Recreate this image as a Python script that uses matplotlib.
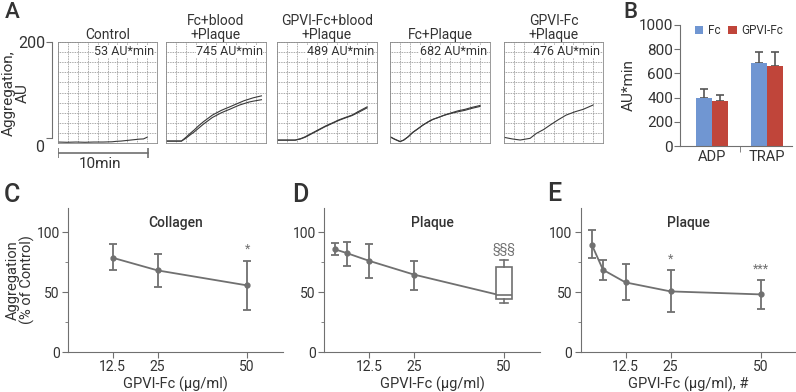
import numpy as np
import matplotlib
matplotlib.use("Agg")
import matplotlib.pyplot as plt
import matplotlib.transforms as mtrans

plt.rcParams['font.family'] = ['Roboto', 'DejaVu Sans']

W, H = 796, 392
TXT = '#333333'
GR = '#707070'

# ---------------- Panel A data ----------------
a_titles = ['Control', 'Fc+blood\n+Plaque', 'GPVI-Fc+blood\n+Plaque', 'Fc+Plaque', 'GPVI-Fc\n+Plaque']
a_auc = ['53 AU*min', '745 AU*min', '489 AU*min', '682 AU*min', '476 AU*min']

t_ctrl = [0, 1, 2, 3, 4, 5, 6, 6.5, 7, 7.5, 8, 8.5, 9, 9.5, 9.9]
y_ctrl = [-8, -8.5, -8, -8.5, -8, -8, -7.5, -6.5, -6, -5, -4, -3, -2, -1.5, 2]

t_fcb = [0, 1.7, 2.2, 2.6, 3.1, 3.6, 4.1, 4.6, 5.1, 5.6, 6.1, 6.6, 7.0, 7.6, 8.1, 8.6, 9.1, 9.6, 10.5]
y_fcb1 = [-6, -6, 2, 9, 17, 26, 34, 41, 48, 53, 58, 62, 65, 70, 74, 78, 81, 84, 88]
y_fcb2 = [-6, -6, 0, 6, 13, 21, 29, 36, 43, 48, 53, 57, 60, 65, 69, 72, 75, 77, 80]

t_gpb = [0, 1, 2, 2.6, 3.1, 3.6, 4.2, 4.7, 5.3, 6.0, 6.8, 7.5, 8.25, 9.0, 9.9]
y_gpb1 = [-4, -4, -4, -1, 3, 8, 14, 19, 25, 31, 38, 43, 48, 56, 65]
y_gpb2 = [-4, -4, -4, -1.5, 2, 7, 13, 18, 24, 30, 37, 42, 47, 54, 63]

t_fcp = [0, 0.5, 1.1, 1.5, 2.0, 2.5, 3.1, 3.6, 4.2, 4.7, 5.3, 6.0, 6.8, 7.5, 8.25, 9.0, 9.9]
y_fcp1 = [3, -2, -7, -4, 3, 12, 20, 27, 34, 39, 43, 48, 53, 57, 60, 64, 68]
y_fcp2 = [3, -2, -7, -4, 3, 12, 20, 27, 34, 39, 43, 48, 52, 55, 58, 62, 66]

t_gpp = [0, 0.9, 1.8, 2.9, 3.6, 4.4, 5.1, 6.0, 6.9, 7.9, 8.8, 9.9]
y_gpp = [1.8, -1.5, -3.8, -0.3, 10, 18, 27, 38, 48, 55, 60, 69]

a_traces = [
    [(t_ctrl, y_ctrl)],
    [(t_fcb, y_fcb1), (t_fcb, y_fcb2)],
    [(t_gpb, y_gpb1), (t_gpb, y_gpb2)],
    [(t_fcp, y_fcp1), (t_fcp, y_fcp2)],
    [(t_gpp, y_gpp)],
]

# ---------------- Panel B data ----------------
b_cats = ['ADP', 'TRAP']
b_fc = [400, 685]
b_fc_err = [70, 95]
b_gp = [370, 660]
b_gp_err = [50, 115]

# ---------------- Panels C-E data ----------------
c_dose = [12.5, 25, 50]
c_mean = [78.5, 68, 55.5]
c_lo = [68, 54, 35]
c_hi = [90, 82, 76]

d_dose = [3.125, 6.25, 12.5, 25, 50]
d_mean = [85.5, 82.5, 76, 64.5, 46.5]
d_lo = [81, 72, 62, 52]
d_hi = [91, 92, 90, 76]
d_box = dict(med=47.5, q1=44.5, q3=71, whislo=41, whishi=76.5)

e_dose = [3.125, 6.25, 12.5, 25, 50]
e_mean = [89.5, 68.5, 58, 50.5, 48]
e_lo = [78, 60, 43, 33, 36]
e_hi = [102, 77, 73.5, 68, 60]

xticks_cde = [12.5, 25, 50]

fig = plt.figure(figsize=(W / 100, H / 100), dpi=100)


def add_ax(x0, y0, x1, y1):
    return fig.add_axes([x0 / W, 1 - y1 / H, (x1 - x0) / W, (y1 - y0) / H])


# ---------------- Panel A ----------------
a_x = [(58, 157), (166, 266), (277, 377), (390, 490), (504, 603)]
dot = (0, (1, 1))
for i, (x0, x1) in enumerate(a_x):
    ax = add_ax(x0, 42, x1, 143)
    ax.set_xlim(0, 11)
    ax.set_ylim(-10, 200)
    ax.set_xticks(np.linspace(0, 11, 11))
    ax.set_yticks(np.linspace(-10, 200, 11))
    ax.tick_params(length=0, labelbottom=False, labelleft=False)
    ax.grid(True, color='#8a8a8a', lw=0.6, linestyle=dot)
    for s in ax.spines.values():
        s.set_linestyle(dot)
        s.set_color('#8a8a8a')
        s.set_linewidth(0.6)
    for (tt, yy) in a_traces[i]:
        ax.plot(tt, yy, color='#3a3a3a', lw=0.8)
    ax.set_title(a_titles[i], fontsize=10, color=TXT, pad=2, linespacing=1.0)
    ax.text(0.97, 0.905, a_auc[i], transform=ax.transAxes, ha='right', va='center',
            fontsize=9, color=TXT,
            bbox=dict(facecolor='white', edgecolor='none', pad=0.3))

# A y-axis
ay = add_ax(52, 42, 53, 138)
ay.set_ylim(0, 200)
ay.set_yticks([0, 200])
ay.set_xticks([])
for s in ['top', 'right', 'bottom']:
    ay.spines[s].set_visible(False)
ay.spines['left'].set_color(GR)
ay.tick_params(axis='y', labelsize=11.5, colors=GR, labelcolor=TXT, length=4, pad=1)
ay.patch.set_visible(False)
lab0 = ay.get_yticklabels()[0]
lab0.set_transform(lab0.get_transform() + mtrans.ScaledTranslation(-1 / 72, -6 / 72, fig.dpi_scale_trans))
fig.text(16 / W, 1 - 93 / H, 'Aggregation,\nAU', rotation=90, ha='center', va='center',
         fontsize=11, color=TXT, linespacing=1.0)

# 10 min scale bar
asb = add_ax(58, 145, 157, 160)
asb.set_xlim(0, 11)
asb.set_ylim(0, 1)
asb.axis('off')
asb.plot([0, 10], [0.5, 0.5], color=GR, lw=1.2, marker='|', ms=7, mew=1.2)
fig.text(100 / W, 1 - 164 / H, '10min', ha='center', va='center', fontsize=11, color=TXT)

fig.text(5 / W, 1 - 12 / H, 'A', fontsize=16, fontweight='medium', color=TXT, va='center')

# ---------------- Panel B ----------------
axb = add_ax(680, 25, 792, 146)
xb = np.arange(len(b_cats))
bw = 0.29
axb.bar(xb - bw / 2, b_fc, bw, color='#7096d2', label='Fc', zorder=2)
axb.bar(xb + bw / 2, b_gp, bw, color='#c0453a', label='GPVI-Fc', zorder=2)
axb.errorbar(xb - bw / 2, b_fc, yerr=[[0, 0], b_fc_err], fmt='none', ecolor='#555555',
             elinewidth=1.2, capsize=3, capthick=1.2, zorder=1)
axb.errorbar(xb + bw / 2, b_gp, yerr=[[0, 0], b_gp_err], fmt='none', ecolor='#555555',
             elinewidth=1.2, capsize=3, capthick=1.2, zorder=1)
axb.set_xlim(-0.58, 1.45)
axb.set_ylim(0, 1000)
axb.set_yticks(range(0, 1001, 200))
axb.set_xticks(xb)
axb.set_xticklabels(b_cats)
axb.set_xticks([0.5], minor=True)
axb.tick_params(axis='x', which='major', length=0, labelsize=10.5, labelcolor=TXT, pad=3)
axb.tick_params(axis='x', which='minor', length=4, color=GR)
axb.tick_params(axis='y', labelsize=11, labelcolor=TXT, color=GR, length=4, pad=1)
for s in ['top', 'right']:
    axb.spines[s].set_visible(False)
axb.spines['left'].set_color(GR)
axb.spines['bottom'].set_color(GR)
axb.set_ylabel('AU*min', fontsize=11, color=TXT, labelpad=2)
axb.legend(loc='center left', bbox_to_anchor=(0.13, 0.955), ncol=2, frameon=False,
           fontsize=8.5, handlelength=0.7, handleheight=0.7, handletextpad=0.4,
           columnspacing=0.7, borderpad=0, borderaxespad=0, labelcolor=TXT)
fig.text(623 / W, 1 - 13 / H, 'B', fontsize=16, fontweight='medium', color=TXT, va='center')


# ---------------- Panels C-E ----------------
def style_line_ax(ax, title):
    ax.set_xlim(0, 60)
    ax.set_ylim(0, 120)
    ax.set_yticks([0, 50, 100])
    ax.set_yticks([25, 75], minor=True)
    ax.set_xticks(xticks_cde)
    ax.set_xticklabels(['12.5', '25', '50'])
    for s in ['top', 'right']:
        ax.spines[s].set_visible(False)
    ax.spines['left'].set_color(GR)
    ax.spines['bottom'].set_color(GR)
    ax.tick_params(axis='both', which='major', labelsize=10, labelcolor=TXT, color=GR,
                   length=4, pad=2)
    ax.tick_params(axis='y', which='minor', color=GR, length=2.5)
    ax.text(0.5, 0.895, title, transform=ax.transAxes, ha='center', va='center',
            fontsize=10, color=TXT, fontweight='medium')
    ax.patch.set_visible(False)


def errs(mean, lo, hi):
    m = np.array(mean[:len(lo)])
    return [m - np.array(lo), np.array(hi) - m]


ekw = dict(fmt='none', ecolor=GR, elinewidth=1.3, capsize=3, capthick=1.3)

axc = add_ax(68, 208, 283, 352)
axc.plot(c_dose, c_mean, color=GR, lw=1.3, marker='o', ms=3.5)
axc.errorbar(c_dose, c_mean, yerr=errs(c_mean, c_lo, c_hi), **ekw)
axc.text(50, 86, '*', ha='center', va='center', fontsize=9, color=GR)
style_line_ax(axc, 'Collagen')
axc.set_xlabel('GPVI-Fc (µg/ml)', fontsize=10.5, color=TXT, labelpad=2)
axc.set_ylabel('Aggregation\n(% of Control)', fontsize=10.5, color=TXT, labelpad=1,
               linespacing=0.95)
fig.text(4 / W, 1 - 195 / H, 'C', fontsize=18, fontweight='medium', color=TXT, va='center')

axd = add_ax(324, 208, 540, 352)
axd.plot(d_dose, d_mean, color=GR, lw=1.3, zorder=2)
axd.plot(d_dose[:4], d_mean[:4], 'o', color=GR, ms=3.5, zorder=3)
axd.errorbar(d_dose[:4], d_mean[:4], yerr=errs(d_mean, d_lo, d_hi), zorder=3, **ekw)
bs = dict(d_box)
bs['fliers'] = []
axd.bxp([bs], positions=[50], widths=4.2, showfliers=False, patch_artist=True,
        boxprops=dict(facecolor='white', edgecolor=GR, lw=1.2),
        medianprops=dict(color=GR, lw=1.2), whiskerprops=dict(color=GR, lw=1.2),
        capprops=dict(color=GR, lw=1.2), capwidths=2.2, zorder=4, manage_ticks=False)
axd.text(50, 86.5, '§§§', ha='center', va='center', fontsize=9, color=GR)
style_line_ax(axd, 'Plaque')
axd.set_xlabel('GPVI-Fc (µg/ml)', fontsize=10.5, color=TXT, labelpad=2)
fig.text(292 / W, 1 - 195 / H, 'D', fontsize=18, fontweight='medium', color=TXT, va='center')

axe = add_ax(580.5, 208, 796.5, 352)
axe.plot(e_dose, e_mean, color=GR, lw=1.3, marker='o', ms=3.5)
axe.errorbar(e_dose, e_mean, yerr=errs(e_mean, e_lo, e_hi), **ekw)
axe.text(25, 77.5, '*', ha='center', va='center', fontsize=9, color=GR)
axe.text(50, 69, '***', ha='center', va='center', fontsize=9, color=GR)
style_line_ax(axe, 'Plaque')
axe.set_xlabel('GPVI-Fc (µg/ml), #', fontsize=10.5, color=TXT, labelpad=2)
fig.text(547 / W, 1 - 194 / H, 'E', fontsize=18, fontweight='medium', color=TXT, va='center')

fig.savefig('out.png', dpi=100)
